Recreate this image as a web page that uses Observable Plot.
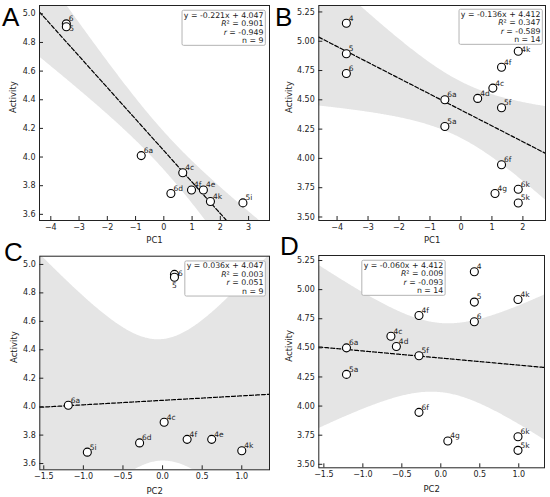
<!DOCTYPE html>
<html><head><meta charset="utf-8">
<script src="https://cdn.jsdelivr.net/npm/d3@7"></script>
<script src="https://cdn.jsdelivr.net/npm/@observablehq/plot@0.6"></script>
<style>
body{margin:0;background:#fff;}
#wrap{position:relative;width:550px;height:497px;overflow:hidden;background:#fff;}
.panel{position:absolute;}
.letter{position:absolute;font-family:"Liberation Sans",Arial,sans-serif;font-size:26px;line-height:26px;color:#000;}
</style></head><body><div id="wrap"></div>
<script>
// ---- data: set 1 (9 compounds, panels A & C) ----
const set1Labels   = ["6","5","6a","4c","6d","4f","4e","4k","5i"];
const set1Activity = [4.93,4.91,4.01,3.89,3.745,3.77,3.77,3.69,3.68];
const set1PC1      = [-3.45,-3.45,-0.80,0.67,0.25,0.98,1.40,1.65,2.80];
const set1PC2      = [0.15,0.15,-1.19,0.02,-0.29,0.31,0.62,1.00,-0.95];
// ---- data: set 2 (14 compounds, panels B & D) ----
const set2Labels   = ["4","5","6","6a","5a","4d","4c","4f","5f","4k","6f","4g","6k","5k"];
const set2Activity = [5.153,4.893,4.724,4.50,4.272,4.512,4.60,4.778,4.432,4.915,3.946,3.70,3.737,3.62];
const set2PC1      = [-3.70,-3.70,-3.70,-0.52,-0.52,0.54,1.03,1.31,1.31,1.85,1.31,1.10,1.85,1.85];
const set2PC2      = [0.43,0.43,0.43,-1.21,-1.21,-0.57,-0.64,-0.28,-0.28,0.99,-0.28,0.09,0.99,0.99];
// ---- reported regression statistics ----
const statsA = ["y = -0.221x + 4.047","R² = 0.901","r = -0.949","n = 9"];
const statsB = ["y = -0.136x + 4.412","R² = 0.347","r = -0.589","n = 14"];
const statsC = ["y = 0.036x + 4.047","R² = 0.003","r = 0.051","n = 9"];
const statsD = ["y = -0.060x + 4.412","R² = 0.009","r = -0.093","n = 14"];
// ---- tick values ----
const ticksPC1A = [-4,-3,-2,-1,0,1,2,3];
const ticksPC1B = [-4,-3,-2,-1,0,1,2];
const ticksPC2  = [-1.5,-1.0,-0.5,0.0,0.5,1.0];
const ticksAct1 = [3.6,3.8,4.0,4.2,4.4,4.6,4.8,5.0];
const ticksAct2 = [3.50,3.75,4.00,4.25,4.50,4.75,5.00,5.25];
// two-sided 95% Student t quantiles by degrees of freedom
const t975 = {7: 2.3646, 12: 2.1788};

function rows(labels, xs, ys){ return labels.map((l,i)=>({label:l, x:xs[i], y:ys[i]})); }
function fit(xs, ys){
  const n = xs.length, mx = d3.mean(xs), my = d3.mean(ys);
  let sxx=0, sxy=0; for(let i=0;i<n;i++){ sxx+=(xs[i]-mx)**2; sxy+=(xs[i]-mx)*(ys[i]-my); }
  const b = sxy/sxx, a = my - b*mx;
  let sse=0; for(let i=0;i<n;i++) sse += (ys[i]-(a+b*xs[i]))**2;
  return {a,b,n,mx,sxx,s:Math.sqrt(sse/(n-2))};
}
function bandRows(f, domain){
  const t = t975[f.n-2], N = 240;
  return d3.range(N+1).map(i=>{
    const x = domain[0] + (domain[1]-domain[0])*i/N;
    const yh = f.a + f.b*x;
    const se = f.s*Math.sqrt(1/f.n + (x-f.mx)**2/f.sxx);
    return {x, y:yh, lo:yh-t*se, hi:yh+t*se};
  });
}

const wrap = document.getElementById("wrap");
const ink = "#222";

function panel(cfg){
  const pts = rows(cfg.labels, cfg.xs, cfg.ys);
  const f = fit(cfg.xs, cfg.ys);
  const band = bandRows(f, cfg.xDomain);
  const innerW = cfg.w - cfg.mL - cfg.mR, innerH = cfg.h - cfg.mT - cfg.mB;
  const nudge = cfg.nudge || {};
  const normal = pts.filter(d => !(d.label in nudge));
  const marks = [
    Plot.areaY(band, {x:"x", y1:"lo", y2:"hi", fill:"#e5e5e5", clip:true}),
    Plot.line(band, {x:"x", y:"y", stroke:"#000", strokeWidth:1.2, strokeDasharray:"4,2", clip:true}),
    Plot.frame({stroke:ink, strokeWidth:1}),
    Plot.tickX(cfg.xTicks, {x:d=>d, stroke:ink, insetTop: innerH-4}),
    Plot.tickY(cfg.yTicks, {y:d=>d, stroke:ink, insetRight: innerW-4}),
    Plot.axisX({ticks:cfg.xTicks, tickFormat:cfg.xFmt, tickSize:0, tickPadding:4, label:null, fontSize:8}),
    Plot.axisY({ticks:cfg.yTicks, tickFormat:cfg.yFmt, tickSize:0, tickPadding:4, label:null, fontSize:8}),
    Plot.text([cfg.xLabel], {text:d=>d, frameAnchor:"bottom", dy:cfg.xLabelDy, lineAnchor:"middle", fontSize:8.5}),
    Plot.text(["Activity"], {text:d=>d, frameAnchor:"left", dx:cfg.yLabelDx, rotate:-90, lineAnchor:"middle", fontSize:8.5}),
    Plot.dot(pts, {x:"x", y:"y", r:4, stroke:"#000", strokeWidth:1.1, fill:"#fff"}),
    Plot.text(normal, {x:"x", y:"y", text:"label", dx:2.5, dy:-5, textAnchor:"start", lineAnchor:"middle", fontSize:7.5})
  ];
  for (const [lab, o] of Object.entries(nudge)) {
    marks.push(Plot.text(pts.filter(d=>d.label===lab), {x:"x", y:"y", text:"label", dx:o.dx, dy:o.dy, textAnchor:o.anchor||"start", lineAnchor:"middle", fontSize:7.5}));
  }
  marks.push(Plot.text([cfg.stats.join("\n")], {text:d=>d, frameAnchor:cfg.statsAnchor, dx:cfg.statsDx, dy:cfg.statsDy, textAnchor:"end", lineAnchor:"top", lineHeight:1.09, fontSize:7.8}));
  const svg = Plot.plot({
    width:cfg.w, height:cfg.h, marginLeft:cfg.mL, marginRight:cfg.mR, marginTop:cfg.mT, marginBottom:cfg.mB,
    x:{domain:cfg.xDomain}, y:{domain:cfg.yDomain},
    style:{fontFamily:"DejaVu Sans", fontSize:"8px", color:ink, background:"transparent", overflow:"visible"},
    marks
  });
  const holder = document.createElement("div");
  holder.className = "panel";
  holder.style.left = cfg.left+"px"; holder.style.top = cfg.top+"px";
  holder.appendChild(svg);
  wrap.appendChild(holder);
  // italic R and r, framed stats box
  const ns = "http://www.w3.org/2000/svg";
  const text = [...svg.querySelectorAll("text")].find(t => t.textContent.startsWith("y ="));
  if (text) {
    text.querySelectorAll("tspan").forEach(ts=>{
      const s = ts.textContent;
      if (s.startsWith("R") || s.startsWith("r ")) {
        ts.textContent = "";
        const it = document.createElementNS(ns,"tspan"); it.setAttribute("font-style","italic"); it.textContent = s[0];
        const rest = document.createElementNS(ns,"tspan"); rest.textContent = s.slice(1);
        ts.appendChild(it); ts.appendChild(rest);
      }
    });
    const bb = text.getBBox();
    const rect = document.createElementNS(ns,"rect");
    rect.setAttribute("x", bb.x-1.8); rect.setAttribute("y", bb.y-0.3);
    rect.setAttribute("width", bb.width+3.6); rect.setAttribute("height", bb.height+0.6);
    rect.setAttribute("fill","#fff"); rect.setAttribute("stroke","#b4b4b4"); rect.setAttribute("stroke-width","1"); rect.setAttribute("rx","1.5");
    if (text.getAttribute("transform")) rect.setAttribute("transform", text.getAttribute("transform"));
    text.parentNode.insertBefore(rect, text);
  }
  const L = document.createElement("div");
  L.className = "letter"; L.textContent = cfg.letter;
  L.style.left = cfg.letterX+"px"; L.style.top = cfg.letterY+"px";
  wrap.appendChild(L);
}

const fInt = d3.format("d"), f1 = d3.format(".1f"), f2 = d3.format(".2f");

panel({letter:"A", letterX:2, letterY:4, left:0, top:0, w:275, h:250, mL:39, mR:6, mT:5, mB:30,
  labels:set1Labels, xs:set1PC1, ys:set1Activity, xDomain:[-4.40,3.74], yDomain:[3.557,5.058],
  xTicks:ticksPC1A, yTicks:ticksAct1, xFmt:fInt, yFmt:f1, xLabel:"PC1", xLabelDy:20, yLabelDx:-26,
  stats:statsA, statsAnchor:"top-right", statsDx:-6, statsDy:6, nudge:{"5":{dx:3, dy:2}}});

panel({letter:"B", letterX:275, letterY:4, left:275, top:0, w:275, h:250, mL:43.3, mR:5, mT:5, mB:30,
  labels:set2Labels, xs:set2PC1, ys:set2Activity, xDomain:[-4.59,2.73], yDomain:[3.47,5.305],
  xTicks:ticksPC1B, yTicks:ticksAct2, xFmt:fInt, yFmt:f2, xLabel:"PC1", xLabelDy:20, yLabelDx:-29.5,
  stats:statsB, statsAnchor:"top-right", statsDx:-5, statsDy:5, nudge:{"4k":{dx:3, dy:-1.5}}});

panel({letter:"C", letterX:4, letterY:239, left:0, top:250, w:275, h:247, mL:39.3, mR:6, mT:5.7, mB:27.7,
  labels:set1Labels, xs:set1PC2, ys:set1Activity, xDomain:[-1.55,1.35], yDomain:[3.556,5.058],
  xTicks:ticksPC2, yTicks:ticksAct1, xFmt:f1, yFmt:f1, xLabel:"PC2", xLabelDy:21, yLabelDx:-26,
  stats:statsC, statsAnchor:"top-right", statsDx:-6, statsDy:6,
  nudge:{"6":{dx:3.5, dy:-1}, "5":{dx:0, dy:8, anchor:"middle"}}});

panel({letter:"D", letterX:280, letterY:233, left:275, top:250, w:275, h:247, mL:43.3, mR:6, mT:5, mB:29.7,
  labels:set2Labels, xs:set2PC2, ys:set2Activity, xDomain:[-1.565,1.33], yDomain:[3.47,5.293],
  xTicks:ticksPC2, yTicks:ticksAct2, xFmt:f1, yFmt:f2, xLabel:"PC2", xLabelDy:21, yLabelDx:-30,
  stats:statsD, statsAnchor:"top-left", statsDx:124.5, statsDy:6});
</script></body></html>
